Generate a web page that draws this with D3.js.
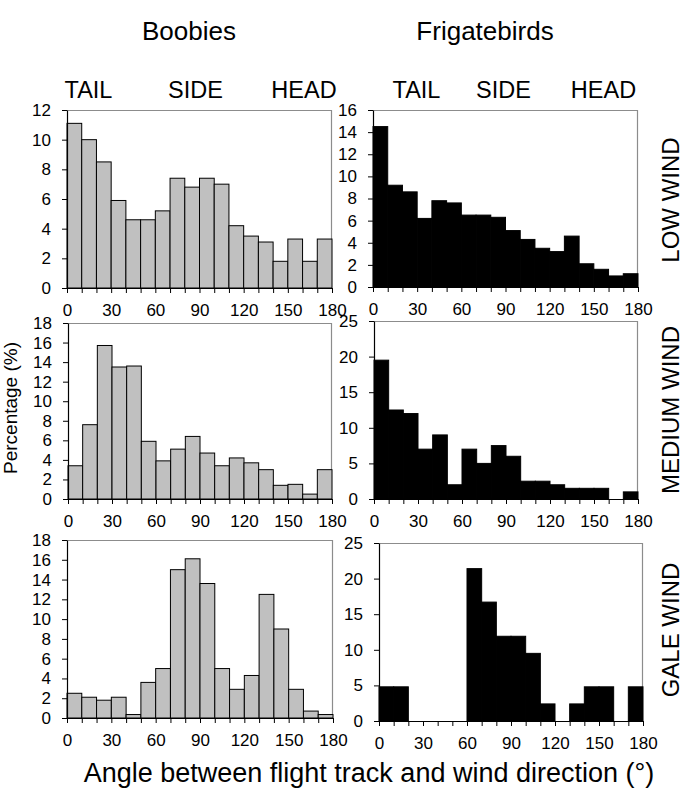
<!DOCTYPE html>
<html><head><meta charset="utf-8">
<script src="https://cdn.jsdelivr.net/npm/d3@7"></script>
<style>body{margin:0;background:#fff} svg text{font-family:"Liberation Sans",Arial,Helvetica,sans-serif;fill:#000}</style>
</head><body><svg id="c" width="685" height="794"></svg>
<script>
// ---- data ----
const binStarts = [0,10,20,30,40,50,60,70,80,90,100,110,120,130,140,150,160,170];
const binWidth = 10;
const xTickValues = [0,10,20,30,40,50,60,70,80,90,100,110,120,130,140,150,160,170,180];
const xTickLabels = [0,30,60,90,120,150,180];

const boobiesLow    = [11.1,10.0,8.5,5.9,4.6,4.6,5.2,7.4,6.8,7.4,7.0,4.2,3.5,3.1,1.8,3.3,1.8,3.3];
const frigateLow    = [14.5,9.2,8.6,6.2,7.8,7.6,6.5,6.5,6.3,5.1,4.3,3.5,3.2,4.6,2.1,1.6,1.0,1.2];
const boobiesMedium = [3.4,7.6,15.7,13.5,13.6,5.9,3.9,5.1,6.4,4.7,3.4,4.2,3.7,3.0,1.4,1.5,0.5,3.0];
const frigateMedium = [19.5,12.5,12.0,7.0,9.0,2.0,7.0,5.0,7.5,6.0,2.5,2.5,2.0,1.5,1.5,1.5,0,1.0];
const boobiesGale   = [2.5,2.1,1.8,2.1,0.35,3.6,5.0,15.0,16.1,13.6,5.0,2.9,4.3,12.5,9.0,2.9,0.7,0.35];
const frigateGale   = [4.8,4.8,0,0,0,0,21.4,16.7,11.9,11.9,9.5,2.4,0,2.4,4.8,4.8,0,4.8];

const yTicks12 = [0,2,4,6,8,10,12];
const yTicks16 = [0,2,4,6,8,10,12,14,16];
const yTicks18 = [0,2,4,6,8,10,12,14,16,18];
const yTicks25 = [0,5,10,15,20,25];

const speciesTitles = ["Boobies","Frigatebirds"];
const directionLabels = ["TAIL","SIDE","HEAD"];
const windLabels = ["LOW WIND","MEDIUM WIND","GALE WIND"];
const yAxisTitle = "Percentage (%)";
const xAxisTitle = "Angle between flight track and wind direction (°)";

// ---- layout ----
const panels = [
  {values: boobiesLow,    fill:"#c0c0c0", yMax:12, ticks:yTicks12, x:67,  y:110, w:265, h:178},
  {values: frigateLow,    fill:"#000000", yMax:16, ticks:yTicks16, x:373, y:110, w:265, h:177},
  {values: boobiesMedium, fill:"#c0c0c0", yMax:18, ticks:yTicks18, x:68,  y:323, w:264, h:176},
  {values: frigateMedium, fill:"#000000", yMax:25, ticks:yTicks25, x:374, y:321, w:264, h:178},
  {values: boobiesGale,   fill:"#c0c0c0", yMax:18, ticks:yTicks18, x:67,  y:540, w:266, h:178},
  {values: frigateGale,   fill:"#000000", yMax:25, ticks:yTicks25, x:379, y:543, w:264, h:178}
];

const svg = d3.select("#c");

panels.forEach(p => {
  const g = svg.append("g").attr("transform", `translate(${p.x},${p.y})`);
  const x = d3.scaleLinear().domain([0,180]).range([0,p.w]);
  const y = d3.scaleLinear().domain([0,p.yMax]).range([p.h,0]);

  g.append("path").attr("d", `M0,0.5H${p.w-0.5}V${p.h}`).attr("fill","none").attr("stroke","#8c8c8c").attr("stroke-width",1.2);

  const bins = binStarts.map((b,i)=>({x0:b, v:p.values[i]})).filter(d=>d.v>0);
  g.selectAll("rect.bar").data(bins).enter().append("rect")
    .attr("class","bar")
    .attr("x", d=>x(d.x0))
    .attr("width", d=>x(d.x0+binWidth)-x(d.x0))
    .attr("y", d=>y(d.v))
    .attr("height", d=>y(0)-y(d.v))
    .attr("fill", p.fill)
    .attr("stroke", "#000")
    .attr("stroke-width", 1);

  const ya = g.append("g").call(d3.axisLeft(y).tickValues(p.ticks).tickSize(5).tickSizeOuter(0).tickPadding(11));
  const xa = g.append("g").attr("transform",`translate(0,${p.h})`)
    .call(d3.axisBottom(x).tickValues(xTickValues).tickSize(5).tickSizeOuter(0).tickPadding(11)
      .tickFormat(d => xTickLabels.includes(d) ? d : ""));
  [ya,xa].forEach(a=>{
    a.selectAll("text").style("font-size","17px").attr("fill","#000");
    a.selectAll("line").attr("stroke","#000");
    a.select(".domain").attr("stroke","#000").attr("stroke-width",1.2);
  });
});

const titleX = [189, 485];
speciesTitles.forEach((t,i)=>{
  svg.append("text").attr("x",titleX[i]).attr("y",40).attr("text-anchor","middle")
    .style("font-size","26px").text(t);
});
const dirX = [[88.5,195.5,304],[416.5,503.5,603.5]];
dirX.forEach(row=>row.forEach((cx,j)=>{
  svg.append("text").attr("x",cx).attr("y",98).attr("text-anchor","middle")
    .style("font-size","23.5px").text(directionLabels[j]);
}));
const windY = [200, 410, 630];
windLabels.forEach((t,i)=>{
  svg.append("text").attr("transform",`translate(679,${windY[i]}) rotate(-90)`)
    .attr("text-anchor","middle").style("font-size","24px").text(t);
});
svg.append("text").attr("transform","translate(17,408) rotate(-90)")
  .attr("text-anchor","middle").style("font-size","19px").text(yAxisTitle);
svg.append("text").attr("x",369).attr("y",782).attr("text-anchor","middle")
  .style("font-size","27px").text(xAxisTitle);
</script>
</body></html>
